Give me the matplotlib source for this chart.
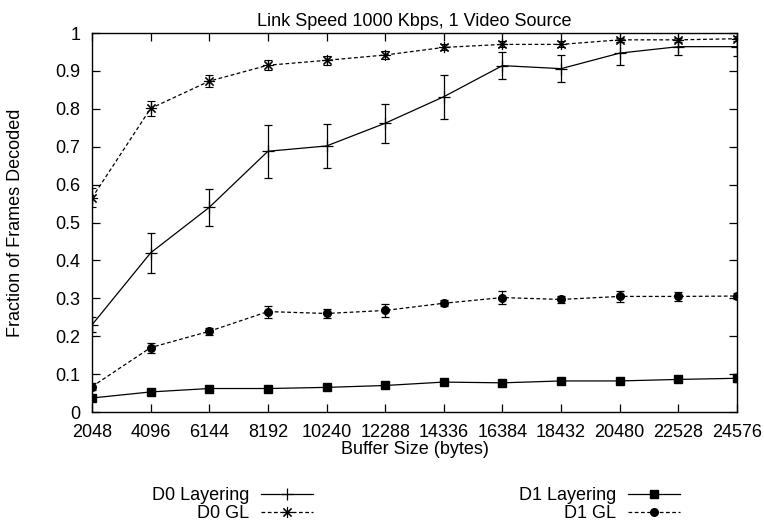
import matplotlib
matplotlib.use("Agg")
import matplotlib.pyplot as plt
from matplotlib.lines import Line2D
import numpy as np

plt.rcParams['font.family'] = ['Liberation Sans', 'DejaVu Sans']

buffer_sizes = [2048, 4096, 6144, 8192, 10240, 12288, 14336, 16384, 18432, 20480, 22528, 24576]

d0_layer = [0.230, 0.420, 0.540, 0.688, 0.702, 0.762, 0.832, 0.914, 0.906, 0.947, 0.964, 0.964]
d0_layer_lo = [0.210, 0.367, 0.490, 0.617, 0.645, 0.710, 0.773, 0.879, 0.870, 0.916, 0.942, 0.940]
d0_layer_hi = [0.250, 0.473, 0.588, 0.758, 0.760, 0.814, 0.889, 0.949, 0.942, 0.975, 0.982, 0.988]

d0_gl = [0.565, 0.801, 0.873, 0.915, 0.928, 0.942, 0.962, 0.970, 0.970, 0.982, 0.982, 0.985]
d0_gl_err = [0.025, 0.020, 0.016, 0.013, 0.012, 0.011, 0.008, 0.008, 0.008, 0.006, 0.006, 0.006]

d1_layer = [0.037, 0.053, 0.062, 0.062, 0.065, 0.070, 0.079, 0.077, 0.082, 0.082, 0.086, 0.089]
d1_layer_err = [0.004, 0.004, 0.004, 0.004, 0.004, 0.004, 0.004, 0.004, 0.004, 0.004, 0.004, 0.010]

d1_gl = [0.067, 0.170, 0.213, 0.265, 0.260, 0.268, 0.287, 0.302, 0.297, 0.305, 0.305, 0.306]
d1_gl_err = [0.010, 0.013, 0.009, 0.016, 0.011, 0.016, 0.008, 0.016, 0.010, 0.014, 0.012, 0.008]

x = np.array(buffer_sizes)
fig = plt.figure(figsize=(7.64, 5.25), dpi=100)
ax = fig.add_axes([0.1204, 0.2152, 0.8443, 0.7219])

dash = (0, (3, 2))
star = (8, 2, 0)
lw = 0.9
yerr0 = [np.array(d0_layer) - np.array(d0_layer_lo), np.array(d0_layer_hi) - np.array(d0_layer)]
kw = dict(color='black', ecolor='black', elinewidth=lw, capsize=3, capthick=lw, lw=lw)
ax.errorbar(x, d0_layer, yerr=yerr0, marker='+', ms=8, mew=lw, ls='-', **kw)
ax.errorbar(x, d0_gl, yerr=d0_gl_err, marker=star, ms=8, mew=0.8, ls=dash, **kw)
ax.errorbar(x, d1_layer, yerr=d1_layer_err, marker='s', ms=5.5, ls='-', **kw)
ax.errorbar(x, d1_gl, yerr=d1_gl_err, marker='o', ms=5.5, ls=dash, **kw)

ax.set_xlim(2048, 24576)
ax.set_ylim(0, 1)
ax.set_xticks(buffer_sizes)
ax.set_yticks(np.arange(0, 1.01, 0.1))
ax.set_yticklabels(['0', '0.1', '0.2', '0.3', '0.4', '0.5', '0.6', '0.7', '0.8', '0.9', '1'])
ax.tick_params(direction='in', top=True, right=True, length=6, width=lw, labelsize=13, pad=8.5)
for s in ax.spines.values():
    s.set_linewidth(1)

ax.set_title('Link Speed 1000 Kbps, 1 Video Source', fontsize=13, pad=5)
ax.set_xlabel('Buffer Size (bytes)', fontsize=13, labelpad=0)
ax.set_ylabel('Fraction of Frames Decoded', fontsize=13, labelpad=22)

col1 = [Line2D([], [], color='black', lw=lw, ls='-', marker='+', ms=8, mew=lw),
        Line2D([], [], color='black', lw=lw, ls=dash, marker=star, ms=8, mew=0.8)]
col2 = [Line2D([], [], color='black', lw=lw, ls='-', marker='s', ms=5.5),
        Line2D([], [], color='black', lw=lw, ls=dash, marker='o', ms=5.5)]
leg_kw = dict(frameon=False, markerfirst=False, fontsize=13, handlelength=2.9,
              handletextpad=0.65, labelspacing=0.05, borderpad=0, borderaxespad=0)
leg1 = fig.legend(col1, ['D0 Layering', 'D0 GL'], loc='upper right',
                  bbox_to_anchor=(313 / 764, 1 - 487 / 525), **leg_kw)
leg2 = fig.legend(col2, ['D1 Layering', 'D1 GL'], loc='upper right',
                  bbox_to_anchor=(680 / 764, 1 - 487 / 525), **leg_kw)

plt.savefig('out.png', dpi=100)
